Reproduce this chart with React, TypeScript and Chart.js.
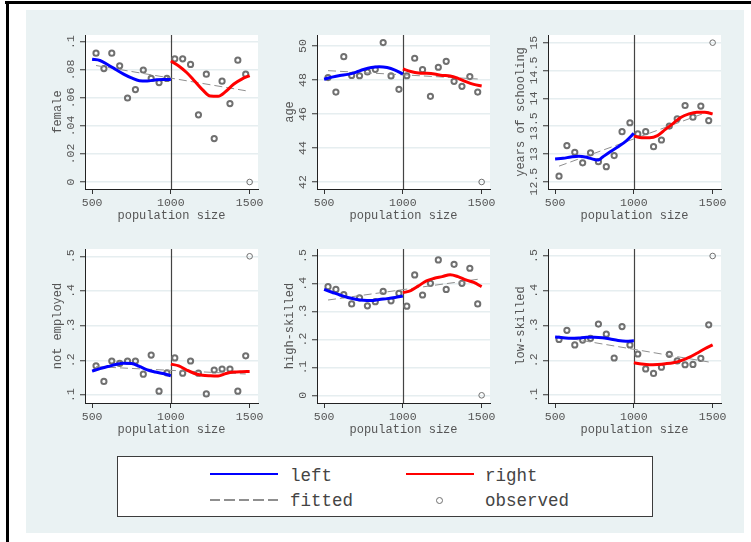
import React, { useEffect, useRef } from "react";
import { Chart, registerables } from "chart.js";

Chart.register(...registerables);

const FONT = "'Liberation Mono', 'DejaVu Sans Mono', monospace";

// ---------- data ----------
const obsX = [525, 575, 625, 675, 725, 775, 825, 875, 925, 975, 1025, 1075, 1125, 1175, 1225, 1275, 1325, 1375, 1425, 1475, 1500];
const leftX = [500, 550, 600, 650, 700, 750, 800, 850, 900, 950, 1000];
const rightX = [1000, 1050, 1100, 1150, 1200, 1250, 1300, 1350, 1400, 1450, 1500];
const fitX = [525, 1475];
const xTicks = [500, 1000, 1500];
const cutoff = 1000;

const femaleObs = [0.092, 0.081, 0.092, 0.083, 0.060, 0.066, 0.080, 0.074, 0.071, 0.074, 0.088, 0.088, 0.084, 0.048, 0.077, 0.031, 0.072, 0.056, 0.087, 0.077, 0];
const femaleLeft = [0.0876, 0.0868, 0.0838, 0.0804, 0.0771, 0.0744, 0.0724, 0.0722, 0.0729, 0.0733, 0.0733];
const femaleRight = [0.0864, 0.0829, 0.0782, 0.0722, 0.066, 0.0614, 0.0612, 0.0648, 0.07, 0.0735, 0.076];
const femaleFit = [0.0832, 0.0652];
const femaleTicks = [0, 0.02, 0.04, 0.06, 0.08, 0.1];
const femaleTickLabels = ["0", ".02", ".04", ".06", ".08", ".1"];

const ageObs = [48.14, 47.29, 49.37, 48.27, 48.25, 48.47, 48.63, 50.2, 48.24, 47.45, 48.25, 49.28, 48.61, 47.04, 48.75, 49.1, 47.92, 47.63, 48.2, 47.29, 42];
const ageLeft = [48.04, 48.17, 48.27, 48.33, 48.45, 48.62, 48.74, 48.78, 48.73, 48.58, 48.35];
const ageRight = [48.65, 48.5, 48.41, 48.39, 48.35, 48.27, 48.24, 48.1, 47.9, 47.74, 47.65];
const ageFit = [48.55, 48.06];
const ageTicks = [42, 44, 46, 48, 50];
const ageTickLabels = ["42", "44", "46", "48", "50"];

const schoolObs = [12.6, 13.15, 13.03, 12.84, 13.02, 12.86, 12.77, 12.97, 13.4, 13.56, 13.36, 13.4, 13.13, 13.25, 13.5, 13.63, 13.87, 13.66, 13.86, 13.6, 15.0];
const schoolLeftX = [500, 550, 600, 650, 700, 750, 775, 800, 850, 900, 950, 1000];
const schoolLeft = [12.91, 12.92, 12.945, 12.96, 12.94, 12.9, 12.89, 12.94, 13.04, 13.13, 13.23, 13.37];
const schoolRight = [13.32, 13.29, 13.29, 13.33, 13.44, 13.55, 13.66, 13.72, 13.75, 13.75, 13.72];
const schoolFit = [12.78, 13.76];
const schoolTicks = [12.5, 13, 13.5, 14, 14.5, 15];
const schoolTickLabels = ["12.5", "13", "13.5", "14", "14.5", "15"];

const notEmpObs = [0.184, 0.139, 0.198, 0.191, 0.198, 0.198, 0.16, 0.215, 0.111, 0.164, 0.207, 0.163, 0.198, 0.163, 0.103, 0.172, 0.175, 0.175, 0.111, 0.213, 0.5];
const notEmpLeft = [0.169, 0.176, 0.182, 0.188, 0.1914, 0.191, 0.1825, 0.1725, 0.1665, 0.162, 0.1556];
const notEmpRight = [0.189, 0.184, 0.172, 0.162, 0.157, 0.1555, 0.155, 0.162, 0.166, 0.1672, 0.1675];
const notEmpFit = [0.1816, 0.1605];
const notEmpTicks = [0.1, 0.2, 0.3, 0.4, 0.5];
const notEmpTickLabels = [".1", ".2", ".3", ".4", ".5"];

const highObs = [0.39, 0.38, 0.361, 0.328, 0.35, 0.321, 0.336, 0.373, 0.339, 0.366, 0.32, 0.432, 0.36, 0.402, 0.486, 0.38, 0.47, 0.402, 0.456, 0.328, 0];
const highLeft = [0.38, 0.37, 0.36, 0.351, 0.345, 0.341, 0.34, 0.344, 0.347, 0.351, 0.3565];
const highRight = [0.368, 0.376, 0.393, 0.411, 0.42, 0.426, 0.433, 0.426, 0.414, 0.405, 0.39];
const highFit = [0.342, 0.4164];
const highTicks = [0, 0.1, 0.2, 0.3, 0.4, 0.5];
const highTickLabels = ["0", ".1", ".2", ".3", ".4", ".5"];

const lowObs = [0.26, 0.286, 0.244, 0.258, 0.263, 0.304, 0.275, 0.2065, 0.297, 0.244, 0.218, 0.175, 0.162, 0.18, 0.217, 0.198, 0.187, 0.188, 0.2055, 0.302, 0.5];
const lowLeft = [0.267, 0.265, 0.263, 0.264, 0.266, 0.266, 0.265, 0.261, 0.257, 0.255, 0.256];
const lowRight = [0.193, 0.189, 0.187, 0.188, 0.19, 0.193, 0.199, 0.208, 0.22, 0.233, 0.244];
const lowFit = [0.268, 0.195];
const lowTicks = [0.1, 0.2, 0.3, 0.4, 0.5];
const lowTickLabels = [".1", ".2", ".3", ".4", ".5"];

// ---------- layout ----------
const PW = 173;
const PH = 154;
const PAD_L = 60;
const PAD_T = 10;
const PAD_R = 12;
const PAD_B = 48;
const CW = PW + PAD_L + PAD_R;
const CH = PH + PAD_T + PAD_B;
const COLS = [85, 317, 548];
const ROWS = [35, 249];
const X_MIN = 455;
const X_MAX = 1553;
const TICK_SIZE = 11.5;
const TEXT_COLOR = "#555555";

type PanelDef = {
  title: string;
  obs: number[];
  lx: number[];
  left: number[];
  right: number[];
  fit: number[];
  ticks: number[];
  labels: string[];
  yMin: number;
  yMax: number;
  col: number;
  row: number;
};

const panels: PanelDef[] = [
  { title: "female", obs: femaleObs, lx: leftX, left: femaleLeft, right: femaleRight, fit: femaleFit, ticks: femaleTicks, labels: femaleTickLabels, yMin: -0.005, yMax: 0.105, col: 0, row: 0 },
  { title: "age", obs: ageObs, lx: leftX, left: ageLeft, right: ageRight, fit: ageFit, ticks: ageTicks, labels: ageTickLabels, yMin: 41.588, yMax: 50.647, col: 1, row: 0 },
  { title: "years of schooling", obs: schoolObs, lx: schoolLeftX, left: schoolLeft, right: schoolRight, fit: schoolFit, ticks: schoolTicks, labels: schoolTickLabels, yMin: 12.369, yMax: 15.138, col: 2, row: 0 },
  { title: "not employed", obs: notEmpObs, lx: leftX, left: notEmpLeft, right: notEmpRight, fit: notEmpFit, ticks: notEmpTicks, labels: notEmpTickLabels, yMin: 0.0769, yMax: 0.521, col: 0, row: 1 },
  { title: "high-skilled", obs: highObs, lx: leftX, left: highLeft, right: highRight, fit: highFit, ticks: highTicks, labels: highTickLabels, yMin: -0.0276, yMax: 0.5251, col: 1, row: 1 },
  { title: "low-skilled", obs: lowObs, lx: leftX, left: lowLeft, right: lowRight, fit: lowFit, ticks: lowTicks, labels: lowTickLabels, yMin: 0.077, yMax: 0.5201, col: 2, row: 1 },
];

const pts = (xs: number[], ys: number[]) => xs.map((x, i) => ({ x, y: ys[i] }));

const plotBg = {
  id: "plotBg",
  beforeDraw(chart: any) {
    const { ctx, chartArea: a } = chart;
    ctx.save();
    ctx.fillStyle = "#ffffff";
    ctx.fillRect(a.left, a.top, a.right - a.left, a.bottom - a.top);
    ctx.restore();
  },
};

const cutLine = {
  id: "cutLine",
  beforeDatasetsDraw(chart: any) {
    const { ctx, chartArea: a, scales } = chart;
    const x = Math.round(scales.x.getPixelForValue(cutoff)) + 0.5;
    ctx.save();
    ctx.strokeStyle = "#444444";
    ctx.lineWidth = 1.2;
    ctx.beginPath();
    ctx.moveTo(x, a.top);
    ctx.lineTo(x, a.bottom);
    ctx.stroke();
    ctx.restore();
  },
};

function makeConfig(p: PanelDef): any {
  const maxLen = Math.max(...p.labels.map((s) => s.length));
  const yPad = 8.55 - maxLen * 0.6 * TICK_SIZE * 0.5;
  return {
    type: "scatter",
    data: {
      datasets: [
        {
          type: "line",
          data: pts(p.lx, p.left),
          borderColor: "#0000ff",
          borderWidth: 3,
          pointRadius: 0,
          fill: false,
          cubicInterpolationMode: "monotone",
        },
        {
          type: "line",
          data: pts(rightX, p.right),
          borderColor: "#ff0000",
          borderWidth: 3,
          pointRadius: 0,
          fill: false,
          cubicInterpolationMode: "monotone",
        },
        {
          type: "line",
          data: pts(fitX, p.fit),
          borderColor: "#8f8f8f",
          borderWidth: 1,
          borderDash: [8, 4],
          pointRadius: 0,
          fill: false,
        },
        {
          type: "scatter",
          data: pts(obsX, p.obs),
          pointRadius: obsX.map((x) => (x === 1500 ? 2.8 : 2.6)),
          pointBorderWidth: obsX.map((x) => (x === 1500 ? 1 : 2)),
          pointBorderColor: "#707070",
          pointBackgroundColor: "rgba(0,0,0,0)",
          showLine: false,
        },
      ],
    },
    options: {
      animation: false,
      responsive: false,
      devicePixelRatio: 1,
      events: [],
      layout: { padding: { left: 0, top: PAD_T, right: PAD_R, bottom: 0 } },
      plugins: { legend: { display: false }, tooltip: { enabled: false } },
      scales: {
        x: {
          type: "linear",
          min: X_MIN,
          max: X_MAX,
          afterBuildTicks: (s: any) => {
            s.ticks = xTicks.map((v) => ({ value: v }));
          },
          afterFit: (s: any) => {
            s.height = PAD_B;
          },
          ticks: {
            autoSkip: false,
            minRotation: 0,
            maxRotation: 0,
            padding: 2,
            color: TEXT_COLOR,
            font: { family: FONT, size: TICK_SIZE },
            callback: (v: number) => String(v),
          },
          grid: { drawOnChartArea: false, drawTicks: true, tickLength: 5, tickColor: "#333", tickWidth: 1 },
          border: { display: true, color: "#222", width: 1 },
          title: {
            display: true,
            text: "population size",
            color: TEXT_COLOR,
            font: { family: FONT, size: 12 },
            padding: { top: 0, bottom: 14.2 },
          },
        },
        y: {
          type: "linear",
          min: p.yMin,
          max: p.yMax,
          afterBuildTicks: (s: any) => {
            s.ticks = p.ticks.map((v) => ({ value: v }));
          },
          afterFit: (s: any) => {
            s.width = PAD_L;
          },
          ticks: {
            autoSkip: false,
            minRotation: 90,
            maxRotation: 90,
            crossAlign: "center",
            padding: yPad,
            color: TEXT_COLOR,
            font: { family: FONT, size: TICK_SIZE },
            callback: (_v: number, i: number) => p.labels[i],
          },
          grid: { color: "#e6eef0", lineWidth: 1.5, drawTicks: true, tickLength: 5, tickColor: "#333", tickWidth: 1 },
          border: { display: true, color: "#222", width: 1 },
          title: {
            display: true,
            text: p.title,
            color: TEXT_COLOR,
            font: { family: FONT, size: 12 },
            padding: { top: 25.5, bottom: 0 },
          },
        },
      },
    },
    plugins: [plotBg, cutLine],
  };
}

function Panel({ p }: { p: PanelDef }) {
  const ref = useRef<HTMLCanvasElement>(null);
  useEffect(() => {
    const chart = new Chart(ref.current as HTMLCanvasElement, makeConfig(p));
    return () => chart.destroy();
  }, [p]);
  const left = COLS[p.col] - PAD_L;
  const top = ROWS[p.row] - PAD_T;
  return (
    <canvas
      ref={ref}
      width={CW}
      height={CH}
      style={{ position: "absolute", left, top, width: CW, height: CH }}
    />
  );
}

const legendText: React.CSSProperties = {
  position: "absolute",
  fontFamily: FONT,
  fontSize: 17.5,
  lineHeight: "18px",
  color: "#444444",
  whiteSpace: "nowrap",
};

function Legend() {
  return (
    <div
      style={{
        position: "absolute",
        left: 117,
        top: 456,
        width: 536,
        height: 61,
        boxSizing: "border-box",
        border: "1px solid #3c3c3c",
        background: "#ffffff",
      }}
    >
      <div style={{ position: "absolute", left: 92, top: 15.5, width: 68, height: 2.5, background: "#0000ff" }} />
      <span style={{ ...legendText, left: 172, top: 10 }}>left</span>
      <div style={{ position: "absolute", left: 288, top: 15.5, width: 68, height: 2.5, background: "#ff0000" }} />
      <span style={{ ...legendText, left: 367, top: 10 }}>right</span>
      <div
        style={{
          position: "absolute",
          left: 92,
          top: 42,
          width: 68,
          height: 2,
          background: "repeating-linear-gradient(to right, #8f8f8f 0 10px, rgba(0,0,0,0) 10px 14.5px)",
        }}
      />
      <span style={{ ...legendText, left: 172, top: 35 }}>fitted</span>
      <div
        style={{
          position: "absolute",
          left: 318,
          top: 39.5,
          width: 7,
          height: 7,
          boxSizing: "border-box",
          border: "1px solid #707070",
          borderRadius: "50%",
        }}
      />
      <span style={{ ...legendText, left: 367, top: 35 }}>observed</span>
    </div>
  );
}

export default function App() {
  return (
    <div
      style={{
        position: "fixed",
        left: 0,
        top: 0,
        width: 751,
        height: 542,
        background: "#ffffff",
        overflow: "hidden",
      }}
    >
      <div style={{ position: "absolute", left: 5, top: 1, width: 746, height: 3, background: "#000" }} />
      <div style={{ position: "absolute", left: 6, top: 1, width: 3, height: 541, background: "#000" }} />
      <div style={{ position: "absolute", left: 26, top: 10, width: 718, height: 523, background: "#eaf2f3" }} />
      {panels.map((p, i) => (
        <Panel key={i} p={p} />
      ))}
      <Legend />
    </div>
  );
}
